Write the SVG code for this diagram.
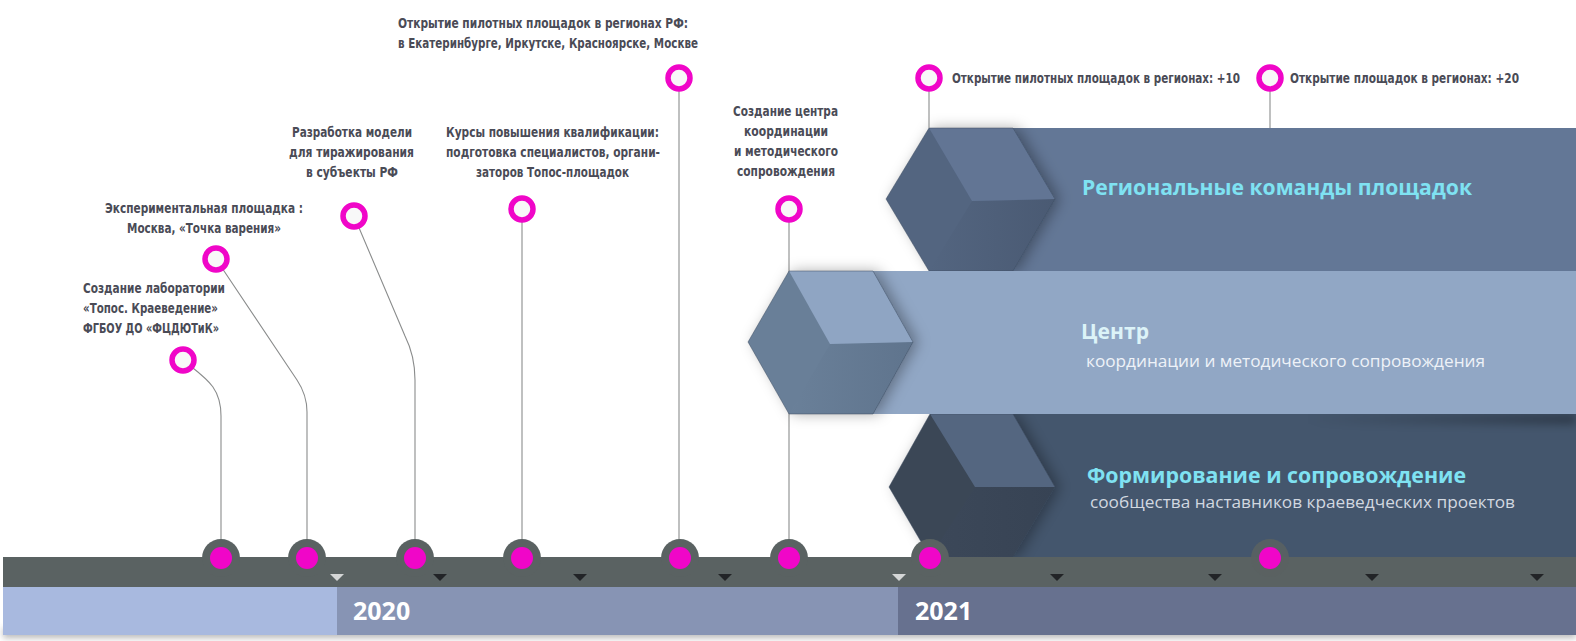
<svg xmlns="http://www.w3.org/2000/svg" width="1576" height="641" viewBox="0 0 1576 641">
<defs>
<style>
.lbl{font-family:"DejaVu Sans Condensed","DejaVu Sans","Liberation Sans",sans-serif;font-stretch:condensed;font-weight:bold;font-size:13.5px;fill:#4a4b56}
.ttl{font-family:"Open Sans","Liberation Sans",sans-serif;font-weight:bold;font-size:21px}
.sub{font-family:"Open Sans","Liberation Sans",sans-serif;font-size:16px}
.yr{font-family:"Open Sans","Liberation Sans",sans-serif;font-weight:bold;font-size:25px;fill:#ffffff}
.ring{fill:#f8f8f8;stroke:#f006c8;stroke-width:5.5}
.dot{fill:#f006c8}
.hub{fill:#5a6262}
.con{fill:none;stroke:#8a8c8c;stroke-width:1.1}
.tri-d{fill:#222427}
.tri-w{fill:#d4d6d6}
.edge{stroke:#3c4a5c;stroke-width:0.8;stroke-opacity:0.6}
</style>
<filter id="hs" x="-40%" y="-40%" width="180%" height="180%">
<feDropShadow dx="5" dy="0" stdDeviation="7" flood-color="#000" flood-opacity="0.32"/>
</filter>
<filter id="blur" x="-20%" y="-200%" width="140%" height="500%">
<feGaussianBlur stdDeviation="3"/>
</filter>
<filter id="sb" x="-10%" y="-100%" width="120%" height="300%">
<feGaussianBlur stdDeviation="5"/>
</filter>
<linearGradient id="g1" x1="0" y1="0" x2="1" y2="0">
<stop offset="0" stop-color="#536580"/><stop offset="1" stop-color="#4a5a73"/>
</linearGradient>
<linearGradient id="g2" x1="0" y1="0" x2="1" y2="0">
<stop offset="0" stop-color="#6a8099"/><stop offset="1" stop-color="#5f748d"/>
</linearGradient>
<linearGradient id="g3" x1="0" y1="0" x2="1" y2="0">
<stop offset="0" stop-color="#3c4859"/><stop offset="1" stop-color="#374354"/>
</linearGradient>
<linearGradient id="rs" x1="0" y1="0" x2="1" y2="0">
<stop offset="0" stop-color="#000" stop-opacity="0"/><stop offset="1" stop-color="#000" stop-opacity="0.35"/>
</linearGradient>
</defs>
<rect width="1576" height="641" fill="#ffffff"/>

<!-- bands -->
<g id="band-top">
<rect x="950" y="128" width="626" height="144" fill="#637796"/>
<g filter="url(#hs)">
<polygon points="886,199 929,128 1013,128 1055,199 1013,271 929,271" fill="#536580"/>
</g>
<polygon points="972,201 1055,199 1013,271 929,271" fill="url(#g1)"/>
<polygon points="929,128 1013,128 1055,199 972,201" fill="#627594"/>
<polygon class="edge" fill="none" points="886,199 929,128 1013,128 1055,199 1013,271 929,271"/>
<text class="ttl" x="1082" y="195" fill="#7fe2f2" textLength="390" lengthAdjust="spacingAndGlyphs">Региональные команды площадок</text>
</g>

<g id="band-bottom">
<rect x="950" y="412" width="626" height="146" fill="#44566d"/>
<rect x="1300" y="414" width="276" height="10" fill="url(#rs)" filter="url(#sb)"/>
<g filter="url(#hs)">
<polygon points="889,487 930,414 1013,414 1055,487 1013,557 930,557" fill="#3a4657"/>
</g>
<polygon points="975,487 1055,487 1013,557 930,557" fill="url(#g3)"/>
<polygon points="930,414 1013,414 1055,487 975,487" fill="#546680"/>
<polygon class="edge" fill="none" points="889,487 930,414 1013,414 1055,487 1013,557 930,557"/>
<text class="ttl" x="1087" y="483" fill="#7fe2f2" textLength="379" lengthAdjust="spacingAndGlyphs">Формирование и сопровождение</text>
<text class="sub" x="1090" y="508" fill="#d2d8e0" textLength="425" lengthAdjust="spacingAndGlyphs">сообщества наставников краеведческих проектов</text>
</g>

<!-- connectors -->
<g id="connectors">
<path class="con" d="M183,360 C205,378 221,386 221,416 L221,540"/>
<path class="con" d="M216,259 L297,380 Q307,395 307,412 L307,540"/>
<path class="con" d="M354,216 L405,336 Q415,356 415,380 L415,540"/>
<path class="con" d="M522,209 L522,540"/>
<path class="con" d="M679,78 L679,540"/>
<path class="con" d="M789,209 L789,540"/>
<path class="con" d="M929,78 L929,128"/>
<path class="con" d="M1270,78 L1270,128"/>
</g>

<g id="band-middle">
<rect x="860" y="271" width="716" height="143" fill="#91a7c5"/>
<g filter="url(#hs)">
<polygon points="748,342 789,271 873,271 913,342 873,414 789,414" fill="#697f98"/>
</g>
<polygon points="830,344 913,342 873,414 789,414" fill="url(#g2)"/>
<polygon points="789,271 873,271 913,342 830,344" fill="#8fa5c3"/>
<polygon class="edge" fill="none" points="748,342 789,271 873,271 913,342 873,414 789,414"/>
<text class="ttl" x="1081" y="339" fill="#dcf3f8" textLength="68" lengthAdjust="spacingAndGlyphs">Центр</text>
<text class="sub" x="1086" y="367" fill="#eef2f8" textLength="399" lengthAdjust="spacingAndGlyphs">координации и методического сопровождения</text>
</g>

<!-- timeline -->
<g id="timeline">
<rect x="3" y="628" width="1573" height="10" fill="#777" opacity="0.5" filter="url(#blur)"/>
<rect x="3" y="557" width="1573" height="30" fill="#5a6262"/>
<rect x="3" y="587" width="334" height="48" fill="#a8b9df"/>
<rect x="337" y="587" width="561" height="48" fill="#8794b4"/>
<rect x="898" y="587" width="678" height="48" fill="#67718f"/>
<text class="yr" x="353" y="620">2020</text>
<text class="yr" x="915" y="620">2021</text>
<polygon class="tri-w" points="330,574 344,574 337,581"/>
<polygon class="tri-d" points="433,574 447,574 440,581"/>
<polygon class="tri-d" points="573,574 587,574 580,581"/>
<polygon class="tri-d" points="718,574 732,574 725,581"/>
<polygon class="tri-w" points="892,574 906,574 899,581"/>
<polygon class="tri-d" points="1050,574 1064,574 1057,581"/>
<polygon class="tri-d" points="1208,574 1222,574 1215,581"/>
<polygon class="tri-d" points="1365,574 1379,574 1372,581"/>
<polygon class="tri-d" points="1530,574 1544,574 1537,581"/>
</g>

<!-- milestones -->
<g id="m1">
<circle class="ring" cx="183" cy="360" r="11"/>
<circle class="hub" cx="221" cy="558" r="19"/><circle class="dot" cx="221" cy="558" r="11"/>
<text class="lbl" x="83" y="293" textLength="142" lengthAdjust="spacingAndGlyphs">Создание лаборатории</text>
<text class="lbl" x="83" y="313" textLength="135" lengthAdjust="spacingAndGlyphs">«Топос. Краеведение»</text>
<text class="lbl" x="83" y="333" textLength="136" lengthAdjust="spacingAndGlyphs">ФГБОУ ДО «ФЦДЮТиК»</text>
</g>
<g id="m2">
<circle class="ring" cx="216" cy="259" r="11"/>
<circle class="hub" cx="307" cy="558" r="19"/><circle class="dot" cx="307" cy="558" r="11"/>
<text class="lbl" x="105" y="213" textLength="198" lengthAdjust="spacingAndGlyphs">Экспериментальная площадка :</text>
<text class="lbl" x="127" y="233" textLength="154" lengthAdjust="spacingAndGlyphs">Москва, «Точка варения»</text>
</g>
<g id="m3">
<circle class="ring" cx="354" cy="216" r="11"/>
<circle class="hub" cx="415" cy="558" r="19"/><circle class="dot" cx="415" cy="558" r="11"/>
<text class="lbl" x="292" y="137" textLength="120" lengthAdjust="spacingAndGlyphs">Разработка модели</text>
<text class="lbl" x="289" y="157" textLength="125" lengthAdjust="spacingAndGlyphs">для тиражирования</text>
<text class="lbl" x="306" y="177" textLength="92" lengthAdjust="spacingAndGlyphs">в субъекты РФ</text>
</g>
<g id="m4">
<circle class="ring" cx="522" cy="209" r="11"/>
<circle class="hub" cx="522" cy="558" r="19"/><circle class="dot" cx="522" cy="558" r="11"/>
<text class="lbl" x="446" y="137" textLength="213" lengthAdjust="spacingAndGlyphs">Курсы повышения квалификации:</text>
<text class="lbl" x="446" y="157" textLength="214" lengthAdjust="spacingAndGlyphs">подготовка специалистов,  органи-</text>
<text class="lbl" x="476" y="177" textLength="153" lengthAdjust="spacingAndGlyphs">заторов Топос-площадок</text>
</g>
<g id="m5">
<circle class="ring" cx="679" cy="78" r="11"/>
<circle class="hub" cx="680" cy="558" r="19"/><circle class="dot" cx="680" cy="558" r="11"/>
<text class="lbl" x="398" y="28" textLength="290" lengthAdjust="spacingAndGlyphs">Открытие пилотных площадок в  регионах РФ:</text>
<text class="lbl" x="398" y="48" textLength="300" lengthAdjust="spacingAndGlyphs">в Екатеринбурге, Иркутске, Красноярске, Москве</text>
</g>
<g id="m6">
<circle class="ring" cx="789" cy="209" r="11"/>
<circle class="hub" cx="789" cy="558" r="19"/><circle class="dot" cx="789" cy="558" r="11"/>
<text class="lbl" x="733" y="116" textLength="105" lengthAdjust="spacingAndGlyphs">Создание центра</text>
<text class="lbl" x="744" y="136" textLength="84" lengthAdjust="spacingAndGlyphs">координации</text>
<text class="lbl" x="734" y="156" textLength="104" lengthAdjust="spacingAndGlyphs">и методического</text>
<text class="lbl" x="737" y="176" textLength="98" lengthAdjust="spacingAndGlyphs">сопровождения</text>
</g>
<g id="m7">
<circle class="ring" cx="929" cy="78" r="11"/>
<circle class="hub" cx="930" cy="558" r="19"/><circle class="dot" cx="930" cy="558" r="11"/>
<text class="lbl" x="952" y="83" textLength="288" lengthAdjust="spacingAndGlyphs">Открытие пилотных площадок в регионах: +10</text>
</g>
<g id="m8">
<circle class="ring" cx="1270" cy="78" r="11"/>
<circle class="hub" cx="1270" cy="558" r="19" opacity="0.9"/><circle class="dot" cx="1270" cy="558" r="11"/>
<text class="lbl" x="1290" y="83" textLength="229" lengthAdjust="spacingAndGlyphs">Открытие площадок в регионах: +20</text>
</g>
</svg>
